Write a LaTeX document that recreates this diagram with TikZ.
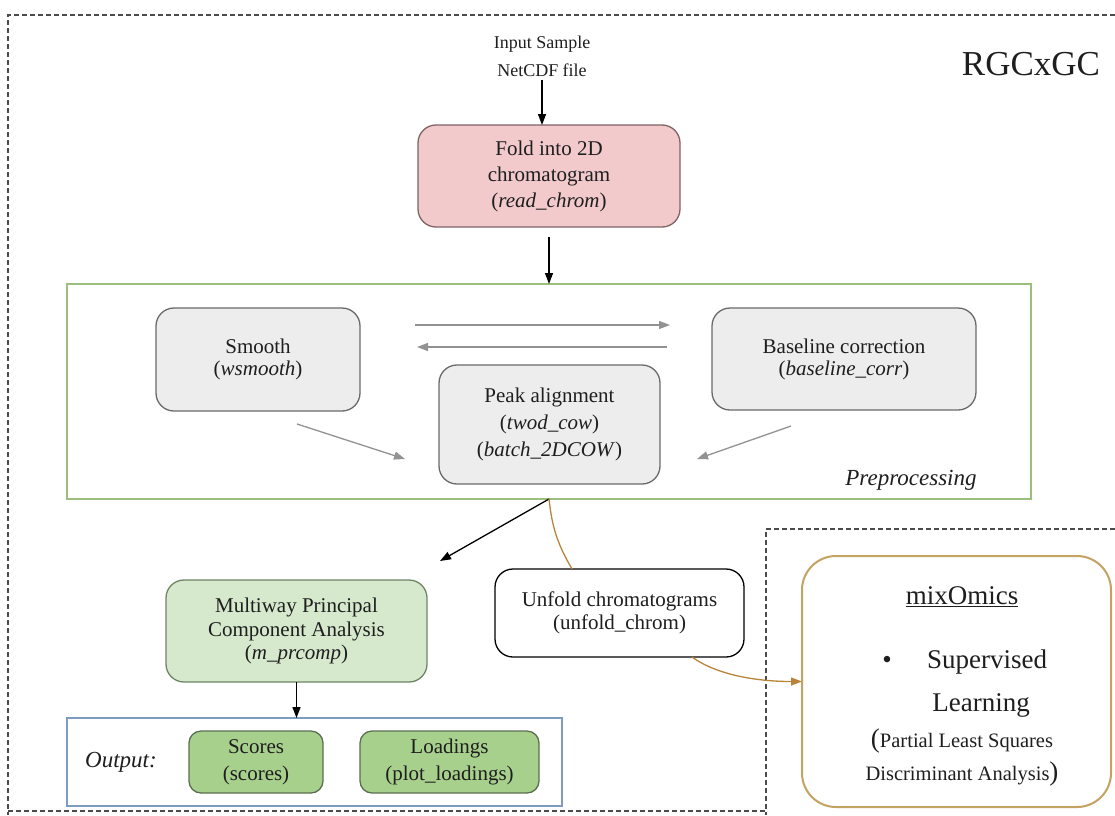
\documentclass[tikz,border=0pt]{standalone}
\usepackage{fontspec}
\setmainfont{Liberation Serif}
\usetikzlibrary{calc,arrows.meta}
\definecolor{pinkfill}{HTML}{F3CACC}
\definecolor{pinkdraw}{HTML}{7E6464}
\definecolor{grayfill}{HTML}{EDEDED}
\definecolor{graydraw}{HTML}{6A6A6A}
\definecolor{prepgreen}{HTML}{9DBF7E}
\definecolor{mpcafill}{HTML}{D6E9CD}
\definecolor{mpcadraw}{HTML}{6F8566}
\definecolor{scorefill}{HTML}{A8D08D}
\definecolor{scoredraw}{HTML}{5A6E50}
\definecolor{outblue}{HTML}{7C9CC2}
\definecolor{mixdraw}{HTML}{C4A262}
\definecolor{orangeline}{HTML}{B8843A}
\definecolor{arrowgray}{HTML}{929292}
\definecolor{frame}{HTML}{4A4A4A}
\definecolor{txt}{HTML}{1E1E1E}
\tikzset{
  every node/.style={text=txt, outer sep=0pt},
  boxbase/.style={draw, rounded corners=18pt, align=center, inner sep=0pt, line width=1.3pt},
  foldbox/.style={boxbase, fill=pinkfill, draw=pinkdraw},
  graybox/.style={boxbase, fill=grayfill, draw=graydraw},
  mpcabox/.style={boxbase, fill=mpcafill, draw=mpcadraw},
  scorebox/.style={boxbase, rounded corners=12pt, fill=scorefill, draw=scoredraw},
  unfoldbox/.style={boxbase, fill=white, draw=black},
  mixbox/.style={boxbase, rounded corners=34pt, draw=mixdraw, line width=2pt},
  blackarrow/.style={draw=black, line width=1.3pt, -{Triangle[length=11pt,width=8pt]}},
  grayarrow/.style={draw=arrowgray, line width=1.3pt, -{Triangle[length=11pt,width=8pt]}},
  orangecurve/.style={draw=orangeline, line width=1.3pt},
  dashframe/.style={draw=frame, line width=1.4pt, dash pattern=on 5pt off 3pt},
}
\begin{document}
\begin{tikzpicture}[x=1pt,y=-1pt]
\useasboundingbox (0,0) rectangle (1115,815);
% outer dashed frames
\coordinate (ftl) at (8,15);
\coordinate (ftr) at (1115,15);
\coordinate (fbl) at (8,815);
\coordinate (fbb) at (8,811);
\coordinate (fbm) at (766,811);
\coordinate (mtl) at (766,529);
\coordinate (mtr) at (1115,529);
\coordinate (mbl) at (766,815);
\draw[dashframe] (ftr) -- (ftl) -- (fbl);
\draw[dashframe] (fbb) -- (fbm);
\draw[dashframe] (mtr) -- (mtl) -- (mbl);

\node[font=\fontsize{35}{35}\selectfont] (title) at (1031,64) {RGCxGC};

\node[align=center, font=\fontsize{18}{28}\selectfont] (input) at (542,56) {Input Sample\\NetCDF file};

\node[foldbox, minimum width=262pt, minimum height=102pt, font=\fontsize{21}{26}\selectfont] (fold) at (549,176)
  {Fold into 2D\\chromatogram\\(\textit{read\_chrom})};

\node[draw=prepgreen, line width=2.2pt, minimum width=964pt, minimum height=215pt, inner sep=0pt] (prep) at (549,391.5) {};
\node[font=\fontsize{23}{23}\selectfont\itshape] (preplabel) at (911,480) {Preprocessing};

\node[graybox, minimum width=204pt, minimum height=103pt, font=\fontsize{21}{22}\selectfont] (smooth) at (258,359.5)
  {Smooth\\(\textit{wsmooth})};
\node[graybox, minimum width=264pt, minimum height=102pt, font=\fontsize{21}{22}\selectfont] (baseline) at (844,359)
  {Baseline correction\\(\textit{baseline\_corr})};
\node[graybox, minimum width=221pt, minimum height=119pt, font=\fontsize{21}{27}\selectfont] (peak) at (549.5,424.5)
  {Peak alignment\\(\textit{twod\_cow})\\(\textit{batch\_2DCOW})};

\node[mpcabox, minimum width=261pt, minimum height=102pt, font=\fontsize{21}{23.5}\selectfont] (mpca) at (296.5,631)
  {Multiway Principal\\Component Analysis\\(\textit{m\_prcomp})};
\node[unfoldbox, minimum width=249pt, minimum height=88pt, font=\fontsize{21}{23}\selectfont] (unfold) at (619.5,613)
  {Unfold chromatograms\\(unfold\_chrom)};

\node[draw=outblue, line width=1.4pt, minimum width=495pt, minimum height=88pt, inner sep=0pt] (outbox) at (314.5,762) {};
\node[font=\fontsize{23}{23}\selectfont\itshape] (outlabel) at (121,762) {Output:};
\node[scorebox, minimum width=134pt, minimum height=62pt, font=\fontsize{21}{27}\selectfont] (scores) at (256,762)
  {Scores\\(scores)};
\node[scorebox, minimum width=179pt, minimum height=62pt, font=\fontsize{21}{27}\selectfont] (loadings) at (449.5,762)
  {Loadings\\(plot\_loadings)};

\node[mixbox, minimum width=309pt, minimum height=251pt] (mix) at (956.5,681.5) {};
\node[font=\fontsize{27}{27}\selectfont] (mixtitle) at (962,597) {\underline{mixOmics}};
\node[font=\fontsize{27}{27}\selectfont] (bullet) at (887,662) {•};
\node[font=\fontsize{27}{27}\selectfont] (sup) at (987,662) {Supervised};
\node[font=\fontsize{27}{27}\selectfont] (learn) at (981,705) {Learning};
\node[font=\fontsize{20.5}{20.5}\selectfont] (pls1) at (962,741) {{\fontsize{27}{27}\selectfont(}Partial Least Squares};
\node[font=\fontsize{20.5}{20.5}\selectfont] (pls2) at (962,774) {Discriminant Analysis{\fontsize{27}{27}\selectfont)}};

% connectors
\draw[blackarrow] (input.south) -- (input.south |- fold.north);
\draw[blackarrow, shorten <=10pt] (fold.south) -- (prep.north);
\draw[grayarrow, shorten <=55pt, shorten >=42pt] (smooth.east |- 0,325) -- (baseline.west |- 0,325);
\draw[grayarrow, shorten <=45pt, shorten >=57pt] (baseline.west |- 0,347) -- (smooth.east |- 0,347);
\draw[grayarrow] ($(smooth.south)+(39,13)$) -- ($(peak.west)+(-34,34.5)$);
\draw[grayarrow] ($(baseline.south)+(-53,16)$) -- ($(peak.east)+(37,34.5)$);
\draw[blackarrow] (prep.south) -- ($(mpca.north east)+(13,-19)$);
\draw[orangecurve] (prep.south) to[bend right=12] ($(unfold.north)+(-47.5,0)$);
\draw[orangecurve, -{Triangle[length=11pt,width=8pt]}] ($(unfold.south)+(72.5,0)$) .. controls +(25,18) and +(-45,0) .. (mix.west);
\draw[blackarrow] (mpca.south) -- (mpca.south |- outbox.north);
\end{tikzpicture}
\end{document}
